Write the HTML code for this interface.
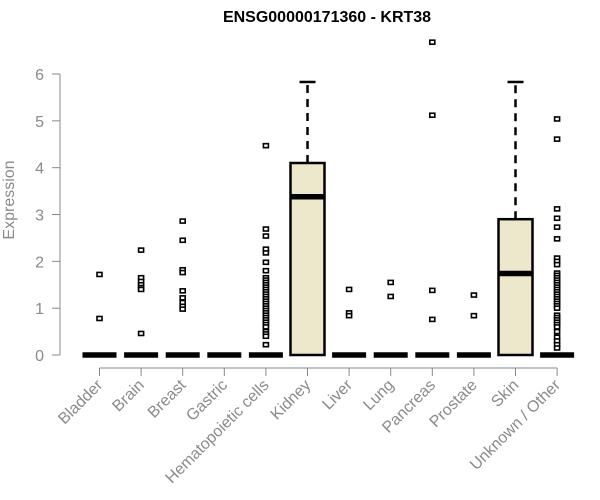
<!DOCTYPE html>
<html><head><meta charset="utf-8"><style>
body{margin:0;background:#fff}
svg{display:block;font-family:"Liberation Sans",Arial,sans-serif}
</style></head><body>
<svg id="chart" width="600" height="500">
<text x="327" y="22" text-anchor="middle" font-weight="bold" font-size="16">ENSG00000171360 - KRT38</text>
<text transform="translate(14,200) rotate(-90)" text-anchor="middle" font-size="16" fill="#8a8a8a">Expression</text>
<g id="yaxis"></g>
<g id="xaxis"></g>
<g id="plot"></g>
</svg>
<script>
const categories=["Bladder","Brain","Breast","Gastric","Hematopoietic cells","Kidney","Liver","Lung","Pancreas","Prostate","Skin","Unknown / Other"];
const q1=[0,0,0,0,0,0,0,0,0,0,0,0];
const medians=[0,0,0,0,0,3.38,0,0,0,0,1.74,0];
const q3=[0,0,0,0,0,4.1,0,0,0,0,2.9,0];
const whiskerLow=[0,0,0,0,0,0,0,0,0,0,0,0];
const whiskerHigh=[0,0,0,0,0,5.83,0,0,0,0,5.83,0];
const outliers=[
 [1.72,0.78],
 [2.24,1.65,1.57,1.5,1.44,1.4,0.46],
 [2.86,2.45,1.82,1.76,1.37,1.22,1.12,1.04,0.98],
 [],
 [4.47,2.69,2.54,2.26,2.18,1.98,1.8,1.65,1.6,1.55,1.5,1.45,1.4,1.35,1.3,1.25,1.2,1.15,1.1,1.05,1.0,0.95,0.9,0.85,0.8,0.75,0.7,0.65,0.6,0.5,0.45,0.4,0.22],
 [],
 [1.4,0.9,0.84],
 [1.55,1.25],
 [6.68,5.12,1.38,0.76],
 [1.28,0.84],
 [],
 [5.04,4.61,3.12,2.92,2.73,2.48,2.07,2.0,1.93,1.75,1.7,1.65,1.6,1.55,1.5,1.45,1.4,1.35,1.3,1.25,1.2,1.15,1.1,1.05,1.0,0.85,0.8,0.75,0.7,0.65,0.6,0.5,0.38,0.3,0.22,0.15]
];
const yTicks=[0,1,2,3,4,5,6];
const NS="http://www.w3.org/2000/svg";
function y(v){return 355-v*46.83;}
function x(i){return 99.5+i*41.6;}
function mk(tag,attrs,parent){const e=document.createElementNS(NS,tag);for(const k in attrs)e.setAttribute(k,attrs[k]);parent.appendChild(e);return e;}
const ya=document.getElementById('yaxis'),xa=document.getElementById('xaxis'),pl=document.getElementById('plot');
let l=mk('line',{x1:60,x2:60,y1:y(6),y2:y(0),stroke:'#888'},ya);


yTicks.forEach(t=>{
 const tk=mk('line',{x1:52,x2:60,y1:y(t),y2:y(t),stroke:'#888'},ya);
 
 
 const tx=mk('text',{x:44,y:y(t)+6,'text-anchor':'end','font-size':16,fill:'#8a8a8a'},ya);
 tx.textContent=t;
 
 
});
l=mk('line',{x1:x(0),x2:x(11),y1:368,y2:368,stroke:'#888'},xa);


categories.forEach((c,i)=>{
 const tk=mk('line',{x1:x(i),x2:x(i),y1:368,y2:376,stroke:'#888'},xa);
 
 
 const tx=mk('text',{transform:`translate(${x(i)+4},${386}) rotate(-45)`,'text-anchor':'end','font-size':16,fill:'#8a8a8a'},xa);
 tx.textContent=c;
 
 
 const g=mk('g',{},pl);
 
 
 const cx=x(i),hw=17;
 if(whiskerHigh[i]>q3[i]){
  mk('line',{x1:cx,x2:cx,y1:y(q3[i]),y2:y(whiskerHigh[i]),stroke:'#000','stroke-width':2.5,'stroke-dasharray':'8,6'},g);
  mk('line',{x1:cx-8,x2:cx+8,y1:y(whiskerHigh[i]),y2:y(whiskerHigh[i]),stroke:'#000','stroke-width':2.5},g);
 }
 if(q3[i]>q1[i]){
  mk('rect',{x:cx-hw,y:y(q3[i]),width:hw*2,height:y(q1[i])-y(q3[i]),fill:'#ede7cb',stroke:'#000','stroke-width':2.5},g);
 }
 mk('line',{x1:cx-hw,x2:cx+hw,y1:y(medians[i]),y2:y(medians[i]),stroke:'#000','stroke-width':5.5},g);
 outliers[i].forEach(v=>{
  const r=mk('rect',{x:cx-2.5,y:y(v)-2,width:5,height:4,fill:'#fff',stroke:'#000','stroke-width':1.6},g);
  
  
 });
});
</script>
</body></html>
